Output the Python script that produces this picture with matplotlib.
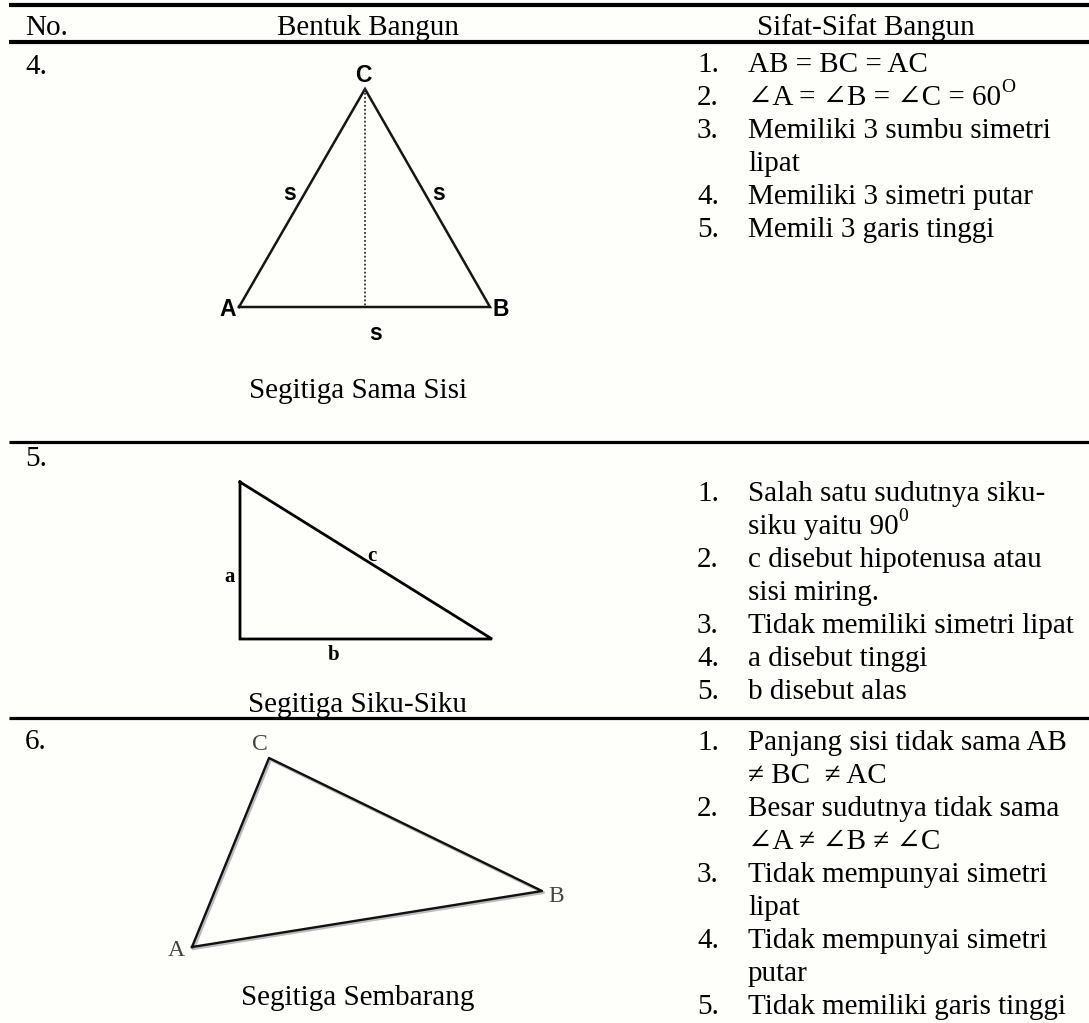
import matplotlib
matplotlib.use("Agg")
import matplotlib.pyplot as plt

SERIF = ['Liberation Serif', 'DejaVu Serif']
SANS_B = ['Liberation Sans', 'DejaVu Sans']

# ---------------- data ----------------
headers = ["No.", "Bentuk Bangun", "Sifat-Sifat Bangun"]
row_numbers = ["4.", "5.", "6."]
captions = ["Segitiga Sama Sisi", "Segitiga Siku-Siku", "Segitiga Sembarang"]

# each line: (text, superscript or None)
props_4 = [("1.", [("AB = BC = AC", None)]),
           ("2.", [("∠A = ∠B = ∠C = 60", "O")]),
           ("3.", [("Memiliki 3 sumbu simetri", None), ("lipat", None)]),
           ("4.", [("Memiliki 3 simetri putar", None)]),
           ("5.", [("Memili 3 garis tinggi", None)])]
props_5 = [("1.", [("Salah satu sudutnya siku-", None), ("siku yaitu 90", "0")]),
           ("2.", [("c disebut hipotenusa atau", None), ("sisi miring.", None)]),
           ("3.", [("Tidak memiliki simetri lipat", None)]),
           ("4.", [("a disebut tinggi", None)]),
           ("5.", [("b disebut alas", None)])]
props_6 = [("1.", [("Panjang sisi tidak sama AB", None), ("≠ BC  ≠ AC", None)]),
           ("2.", [("Besar sudutnya tidak sama", None), ("∠A ≠ ∠B ≠ ∠C", None)]),
           ("3.", [("Tidak mempunyai simetri", None), ("lipat", None)]),
           ("4.", [("Tidak mempunyai simetri", None), ("putar", None)]),
           ("5.", [("Tidak memiliki garis tinggi", None)])]

# triangle vertices in page pixels
tri_equilateral = {"A": (239, 307), "B": (490, 307), "C": (365, 89)}
tri_right = {"top": (240, 482), "corner": (240, 639), "right": (492, 639)}
tri_scalene = {"A": (192, 947), "B": (542, 891), "C": (269, 758)}

# layout
W, H = 1089, 1023
rule_y = [5, 42, 442, 718]
row_label_y = [64, 456, 739]
props_start_y = [62, 491, 740]
line_gap = 33
num_x, text_x = 697, 748
caption_y = [388, 702, 995]
caption_x = 358
BASE = 10  # visual centre -> baseline offset for serif text

fig = plt.figure(figsize=(W / 100, H / 100), dpi=100)
fig.patch.set_facecolor('#fefefa')
ax = fig.add_axes([0, 0, 1, 1])
ax.set_xlim(0, W)
ax.set_ylim(H, 0)
ax.axis('off')

FS = 21


def stext(x, y, s, ha='left', **kw):
    return ax.text(x, y + BASE, s, family=SERIF, fontsize=FS, ha=ha, va='baseline', **kw)


# rules
for i, y in enumerate(rule_y):
    ax.plot([9, W], [y, y], color='black', lw=3.0 if i < 2 else 2.3, solid_capstyle='butt')

# header
stext(25, 25, headers[0])
stext(368, 25, headers[1], ha='center')
stext(866, 25, headers[2], ha='center')

# row numbers
for lab, y in zip(row_numbers, row_label_y):
    stext(25, y, lab)

# properties
sup_jobs = []
for props, y0 in zip([props_4, props_5, props_6], props_start_y):
    y = y0
    for num, lines in props:
        stext(num_x, y, num)
        for ln, sup in lines:
            t = stext(text_x, y, ln)
            if sup is not None:
                sup_jobs.append((t, sup, y))
            y += line_gap

# captions
for cap, y in zip(captions, caption_y):
    stext(caption_x, y, cap, ha='center')

# ---- triangle 1: equilateral ----
A, B, C = tri_equilateral["A"], tri_equilateral["B"], tri_equilateral["C"]
ax.plot([A[0], B[0], C[0], A[0]], [A[1], B[1], C[1], A[1]], color='#151515', lw=1.8,
        solid_joinstyle='miter')
ax.plot([C[0], C[0]], [C[1], A[1]], color='#333333', lw=1.3, ls=(0, (1, 1.2)))
lbl = dict(family=SANS_B, fontsize=16.5, fontweight='bold', ha='center', va='center')
ax.text(C[0] - 2, C[1] - 14, "C", **lbl)
ax.text(A[0] - 11, A[1] + 3, "A", **lbl)
ax.text(B[0] + 11, B[1] + 2, "B", **lbl)
ax.text(290, 193, "s", **lbl)
ax.text(439, 193, "s", **lbl)
ax.text(376, 334, "s", **lbl)

# ---- triangle 2: right ----
T, K, R = tri_right["top"], tri_right["corner"], tri_right["right"]
ax.plot([T[0], K[0], R[0], T[0]], [T[1], K[1], R[1], T[1]], color='black', lw=2.0,
        solid_joinstyle='miter')
lbl2 = dict(family=SERIF, fontsize=15, fontweight='bold', ha='center', va='center')
ax.text(230, 577, "a", **lbl2)
ax.text(372, 556, "c", **lbl2)
ax.text(334, 655, "b", **lbl2)

# ---- triangle 3: scalene ----
A, B, C = tri_scalene["A"], tri_scalene["B"], tri_scalene["C"]
ax.plot([A[0] + 1.5, B[0] + 1.5, C[0] + 1.5, A[0] + 1.5],
        [A[1] + 1.5, B[1] + 1.5, C[1] + 1.5, A[1] + 1.5], color='#bbbbbb', lw=2.2)
ax.plot([A[0], B[0], C[0], A[0]], [A[1], B[1], C[1], A[1]], color='#111111', lw=1.7)
lbl3 = dict(family=SERIF, fontsize=17, color='#444444', ha='center', va='center')
ax.text(C[0] - 9, C[1] - 13, "C", **lbl3)
ax.text(A[0] - 16, A[1] + 4, "A", **lbl3)
ax.text(B[0] + 14, B[1] + 6, "B", **lbl3)

# superscripts placed right after their base text
fig.canvas.draw()
r = fig.canvas.get_renderer()
for t, sup, y in sup_jobs:
    bb = t.get_window_extent(renderer=r)
    ax.text(bb.x1, y + BASE - 13, sup, family=SERIF, fontsize=14,
            ha='left', va='baseline')

fig.savefig("out.png", dpi=100, facecolor=fig.get_facecolor())
